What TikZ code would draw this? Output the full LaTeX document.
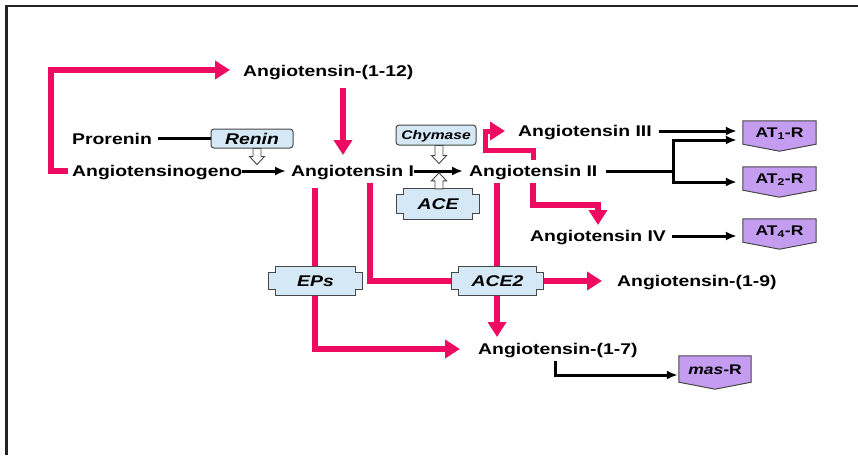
\documentclass[tikz,border=0pt]{standalone}
\usepackage{fontspec}
\setmainfont{Liberation Sans}
\newfontfamily\diagfont[FakeStretch=1.25]{Liberation Sans}
\usetikzlibrary{arrows.meta,calc}

\definecolor{pinkc}{RGB}{238,12,98}
\definecolor{enzfill}{RGB}{212,233,245}
\definecolor{recfill}{RGB}{196,156,240}
\definecolor{edgec}{RGB}{70,70,70}
\definecolor{framec}{RGB}{35,35,35}

\pgfdeclarelayer{flow}
\pgfdeclarelayer{frames}
\pgfsetlayers{flow,frames,main}

% notched enzyme outline around a node
\newcommand{\notchframe}[1]{%
  \begin{pgfonlayer}{frames}
  \draw[enzline] ($(#1.north west)+(7,0)$) -- ($(#1.north east)+(-7,0)$)
    -- ++(0,6) -- ++(7,0) -- ($(#1.south east)+(0,-6)$) -- ++(-7,0)
    -- ++(0,6) -- ($(#1.south west)+(7,0)$) -- ++(0,-6) -- ++(-7,0)
    -- ($(#1.north west)+(0,6)$) -- ++(7,0) -- cycle;
  \end{pgfonlayer}}
% receptor tag with a pointed bottom
\newcommand{\recframe}[1]{%
  \begin{pgfonlayer}{frames}
  \draw[recline] (#1.north west) -- (#1.north east) -- (#1.south east)
    -- ($(#1.south)+(0,7)$) -- (#1.south west) -- cycle;
  \end{pgfonlayer}}
% hollow block arrows
\newcommand{\hollowdown}[2]{%
  \draw[hollow] #1 ++(-4,0) -- ++(0,#2) -- ++(-3.5,0) -- ++(7.5,8)
    -- ++(7.5,-8) -- ++(-3.5,0) -- ++(0,-#2) -- cycle;}
\newcommand{\hollowup}[2]{%
  \draw[hollow] #1 ++(-4,0) -- ++(0,-#2) -- ++(-3.5,0) -- ++(7.5,-8)
    -- ++(7.5,8) -- ++(-3.5,0) -- ++(0,#2) -- cycle;}

\begin{document}
\begin{tikzpicture}[x=1pt,y=-1pt,
  lbl/.style={inner sep=0pt, anchor=west, text height=11pt, text depth=0pt,
    font=\diagfont\bfseries\fontsize{15.5}{18}\selectfont},
  enzr/.style={draw=edgec, fill=enzfill, rounded corners=3pt, line width=1pt,
    inner sep=0pt, text height=11pt, text depth=0pt,
    font=\diagfont\bfseries\itshape\fontsize{15.5}{18}\selectfont},
  enzn/.style={inner sep=0pt, text height=11pt, text depth=0pt,
    font=\diagfont\bfseries\itshape\fontsize{15.5}{18}\selectfont},
  enzline/.style={draw=edgec, fill=enzfill, line width=1pt},
  rec/.style={inner sep=0pt, text height=10pt, text depth=0pt,
    font=\diagfont\bfseries\fontsize{14}{16}\selectfont},
  recline/.style={draw=edgec, fill=recfill, line width=1pt, line join=miter},
  hollow/.style={draw=edgec, fill=white, line width=0.9pt},
  pinkline/.style={draw=pinkc, line width=6pt, line join=miter},
  pinkarrow/.style={pinkline, -{Triangle[length=15pt,width=18pt]}},
  blk/.style={draw=black, line width=3pt, line join=miter},
  blkarrow/.style={blk, -{Latex[length=11pt,width=9pt]}}
]
\useasboundingbox (0,0) rectangle (858,455);

% outer frame (top and left edges)
\draw[framec, line width=2.6pt] (6.5,455) -- (6.5,5.8) -- (858,5.8);

% peptides
\node[lbl] (a112) at (243,71)  {Angiotensin-(1-12)};
\node[lbl] (pro)  at (72,138.5){Prorenin};
\node[lbl] (ogen) at (72,171)  {Angiotensinogeno};
\node[lbl] (a1)   at (291,171) {Angiotensin I};
\node[lbl] (a2)   at (469,171) {Angiotensin II};
\node[lbl] (a3)   at (518,131) {Angiotensin III};
\node[lbl] (a4)   at (530,236) {Angiotensin IV};
\node[lbl] (a19)  at (617,281) {Angiotensin-(1-9)};
\node[lbl] (a17)  at (478,349) {Angiotensin-(1-7)};

% enzymes
\node[enzr, minimum width=82pt, minimum height=19pt] (renin) at (252,138.5) {Renin};
\node[enzr, minimum width=80pt, minimum height=20pt, text height=8.8pt,
  font=\diagfont\bfseries\itshape\fontsize{12.5}{14}\selectfont] (chym) at (436,135) {Chymase};
\node[enzn, minimum width=82pt, minimum height=30pt] (ace)  at (438,204)   {ACE};
\node[enzn, minimum width=93pt, minimum height=28pt] (eps)  at (315.5,281) {EPs};
\node[enzn, minimum width=91pt, minimum height=28pt] (ace2) at (497.5,281) {ACE2};
\notchframe{ace}
\notchframe{eps}
\notchframe{ace2}

% receptors
\node[rec, minimum width=73pt, minimum height=23pt] (at1)  at (779.5,132.5) {AT\textsubscript{1}-R};
\node[rec, minimum width=73pt, minimum height=23pt] (at2)  at (779.5,178.5) {AT\textsubscript{2}-R};
\node[rec, minimum width=73pt, minimum height=23pt] (at4)  at (779.5,230.5) {AT\textsubscript{4}-R};
\node[rec, minimum width=72pt, minimum height=26pt] (masr) at (715,369) {\textit{mas}-R};
\recframe{at1}
\recframe{at2}
\recframe{at4}
\recframe{masr}

% enzymatic routes
\begin{pgfonlayer}{flow}
\draw[pinkarrow] ($(ogen.west)+(-4,0)$) -- ++(-17,0) |- ($(a112.west)+(-13,-1)$);
\draw[pinkarrow] ($(a112.west)+(100,17)$) -- ($(a1.west)+(52,-16)$);
\draw[pinkarrow] ($(a1.west)+(24,17)$) |- ($(a17.west)+(-18,0)$);
\draw[pinkarrow] ($(a1.west)+(79,12)$) |- ($(a19.west)+(-15,0)$);
\draw[pinkarrow] ($(a2.west)+(28,12)$) -- ($(a17.west)+(19,-12)$);
\draw[pinkarrow, line width=5pt] ($(a2.west)+(64,-11)$) |- ($(a2.west)+(16,-21)$) |- ($(a3.west)+(-13,0)$);
\draw[pinkarrow] ($(a2.west)+(64,12)$) |- ($(a4.west)+(68,-31)$) -- ($(a4.west)+(68,-11)$);
\end{pgfonlayer}

% conversions and receptor binding
\draw[blk, line width=2.6pt] ($(pro.east)+(6,0)$) -- (pro.east -| renin.west);
\draw[blkarrow] (ogen.east) -- ($(a1.west)+(-5,0)$);
\draw[blkarrow] (a1.east) -- ($(a2.west)+(-6,0)$);
\draw[blkarrow] ($(a3.east)+(7,0)$) -- ($(a3.east -| at1.west)+(-6,0)$);
\draw[blk] ($(a2.east)+(9,0)$) -- ($(a2.east)+(76,0)$) coordinate (br);
\draw[blkarrow] (br) |- ($(at1.west)+(-6,7.5)$);
\draw[blkarrow] (br) |- ($(at2.west)+(-6,3.5)$);
\draw[blkarrow] ($(a4.east)+(6,0)$) -- ($(a4.east -| at4.west)+(-6,0)$);
\draw[blkarrow] ($(a17.west)+(77,12)$) |- ($(masr.west)+(-1,6)$);

% enzyme action arrows
\hollowdown{([xshift=5pt]renin.south)}{8}
\hollowdown{([xshift=3pt]chym.south)}{10}
\hollowup{([xshift=1pt]ace.north)}{8}
\end{tikzpicture}
\end{document}
